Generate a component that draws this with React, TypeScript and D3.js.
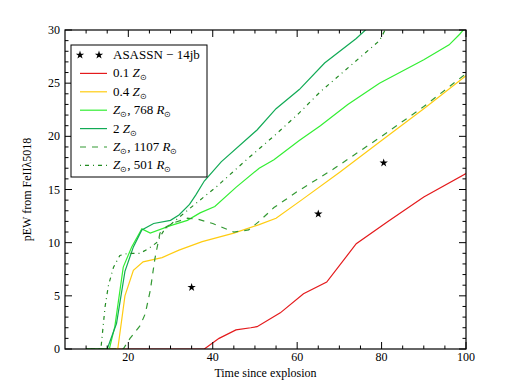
import React from "react";
import * as d3 from "d3";

// data
const obsDays = [35, 65, 80.5];
const obsPew = [5.8, 12.7, 17.5];

const z01 = [[10, 0], [38, 0], [41.5, 1.0], [45.5, 1.8], [49, 2.0], [50.5, 2.1], [56, 3.4], [61.5, 5.2], [67, 6.3], [74, 9.9], [81.5, 12.0], [90, 14.3], [100, 16.5]];
const z04 = [[10, 0], [17.5, 0], [19.2, 5], [21.2, 7.4], [23.5, 8.2], [28, 8.6], [32, 9.3], [37.5, 10.1], [45, 10.9], [51, 11.7], [55, 12.3], [61, 14], [70, 16.6], [80, 19.6], [90, 22.6], [100, 25.7]];
const z1r768 = [[10, 0], [15.5, 0], [16.8, 2.1], [18.8, 7.7], [20.8, 9.6], [23.2, 11.3], [25.2, 10.9], [30, 11.6], [34, 12.1], [37, 12.8], [40.5, 13.4], [45.5, 15.2], [51, 17.0], [54.5, 17.8], [60.5, 19.6], [65.5, 21.0], [72, 23.0], [79.5, 25.0], [90, 27.2], [96, 28.6], [98.5, 29.6], [100, 30.3]];
const z2 = [[10, 0], [15, 0], [17.2, 2.4], [19.2, 7.3], [21.2, 9.6], [23.2, 11.2], [26, 11.8], [30, 12.1], [32, 12.6], [34.5, 13.6], [36, 14.5], [38, 15.8], [42, 17.6], [50.5, 20.6], [55, 22.6], [60.5, 24.4], [66.5, 26.9], [74, 29.2], [77, 30.3]];
const z1r1107 = [[10, 0], [18.8, 0], [20.4, 1.0], [22.8, 2.2], [24, 3.3], [25.2, 5.5], [26.3, 8.5], [27.5, 10.9], [29, 11.5], [31, 11.9], [34, 12.3], [36.5, 12.2], [40, 11.8], [45, 11.0], [48.5, 11.2], [51, 12.0], [54.5, 13.3], [60, 14.8], [68.5, 16.9], [80, 20.0], [90, 22.8], [100, 25.9]];
const z1r501 = [[10, 0], [13.5, 0], [14.5, 4], [15.3, 6], [16.5, 7.7], [18, 8.8], [20, 9], [22.8, 9], [25, 9.5], [26.7, 10], [28.5, 11.2], [31.5, 12.2], [34.5, 13.2], [41, 15.3], [48, 17.8], [55, 20.2], [60.5, 22.2], [65.5, 24.2], [72.5, 26.6], [79.5, 29.0], [81.5, 30.5]];

const models = [
  { data: z01, color: "#e41a1c", dash: null, z: "0.1 ", r: null },
  { data: z04, color: "#ffcc11", dash: null, z: "0.4 ", r: null },
  { data: z1r768, color: "#33ee33", dash: null, z: "", r: "768" },
  { data: z2, color: "#11aa55", dash: null, z: "2 ", r: null },
  { data: z1r1107, color: "#339933", dash: "6,6", r: "1107", z: "" },
  { data: z1r501, color: "#228b22", dash: "1,4,4,4", r: "501", z: "" },
];

const xTicks = [20, 40, 60, 80, 100];
const yTicks = [0, 5, 10, 15, 20, 25, 30];

const W = 518, H = 388;
const m = { left: 65, right: 52, top: 30, bottom: 39 };

export default function App() {
  const x = d3.scaleLinear().domain([5, 100]).range([m.left, W - m.right]);
  const y = d3.scaleLinear().domain([0, 30]).range([H - m.bottom, m.top]);
  const line = d3.line<number[]>().x(d => x(d[0])).y(d => y(d[1]));
  const star = d3.symbol().type(d3.symbolStar).size(22)();
  const x0 = m.left, x1 = W - m.right, y0 = m.top, y1 = H - m.bottom;

  const xMinor = d3.range(10, 101, 5);
  const yMinor = d3.range(0, 31, 1);

  const leg = { x: 71, y: 45, w: 136, h: 132 };
  const rowY = (i: number) => 55 + i * 18.4;
  const font = "Liberation Serif, Times New Roman, serif";

  const sunLabel = (md: any) => (
    <>
      {md.z}
      <tspan fontStyle="italic">Z</tspan>
      <tspan fontSize="8" dy="3">⊙</tspan>
      {md.r ? (
        <>
          <tspan dy="-3">, {md.r} </tspan>
          <tspan fontStyle="italic">R</tspan>
          <tspan fontSize="8" dy="3">⊙</tspan>
        </>
      ) : null}
    </>
  );

  return (
    <svg width={W} height={H} style={{ position: "absolute", left: 0, top: 0, fontFamily: font }}>
      <defs>
        <clipPath id="plot">
          <rect x={x0} y={y0} width={x1 - x0} height={y1 - y0} />
        </clipPath>
      </defs>
      <rect width={W} height={H} fill="#fff" />
      <g clipPath="url(#plot)">
        {models.map((md, i) => (
          <path key={i} d={line(md.data) || ""} fill="none" stroke={md.color} strokeWidth={1.2}
            strokeDasharray={md.dash || undefined} />
        ))}
        {obsDays.map((d, i) => (
          <path key={i} d={star || ""} transform={`translate(${x(d)},${y(obsPew[i])})`} fill="#000" />
        ))}
      </g>
      {/* ticks on all four sides */}
      <g stroke="#000" strokeWidth={1}>
        {xMinor.map(t => (
          <g key={"xm" + t}>
            <line x1={x(t)} x2={x(t)} y1={y1} y2={y1 - (t % 20 === 0 ? 7 : 3.5)} />
            <line x1={x(t)} x2={x(t)} y1={y0} y2={y0 + (t % 20 === 0 ? 7 : 3.5)} />
          </g>
        ))}
        {yMinor.map(t => (
          <g key={"ym" + t}>
            <line y1={y(t)} y2={y(t)} x1={x0} x2={x0 + (t % 5 === 0 ? 7 : 3.5)} />
            <line y1={y(t)} y2={y(t)} x1={x1} x2={x1 - (t % 5 === 0 ? 7 : 3.5)} />
          </g>
        ))}
      </g>
      <rect x={x0} y={y0} width={x1 - x0} height={y1 - y0} fill="none" stroke="#000" strokeWidth={1.2} />
      <g fontSize="12" fill="#000">
        {xTicks.map(t => (
          <text key={t} x={x(t)} y={y1 + 12} textAnchor="middle">{t}</text>
        ))}
        {yTicks.map(t => (
          <text key={t} x={x0 - 5} y={y(t) + 4} textAnchor="end">{t}</text>
        ))}
      </g>
      <text x={(x0 + x1) / 2} y={377} textAnchor="middle" fontSize="12">Time since explosion</text>
      <text transform={`translate(31,${(y0 + y1) / 2}) rotate(-90)`} textAnchor="middle" fontSize="12">pEW from FeIIλ5018</text>

      {/* legend */}
      <rect x={leg.x} y={leg.y} width={leg.w} height={leg.h} fill="#fff" stroke="#000" strokeWidth={1} />
      <path d={star || ""} transform={`translate(80,${rowY(0)})`} fill="#000" />
      <path d={star || ""} transform={`translate(99,${rowY(0)})`} fill="#000" />
      <text x={113} y={rowY(0) + 4} fontSize="13">ASASSN − 14jb</text>
      {models.map((md, i) => (
        <g key={i}>
          <line x1={80} x2={107} y1={rowY(i + 1)} y2={rowY(i + 1)} stroke={md.color} strokeWidth={1.2}
            strokeDasharray={md.dash || undefined} />
          <text x={113} y={rowY(i + 1) + 4} fontSize="13">{sunLabel(md)}</text>
        </g>
      ))}
    </svg>
  );
}
